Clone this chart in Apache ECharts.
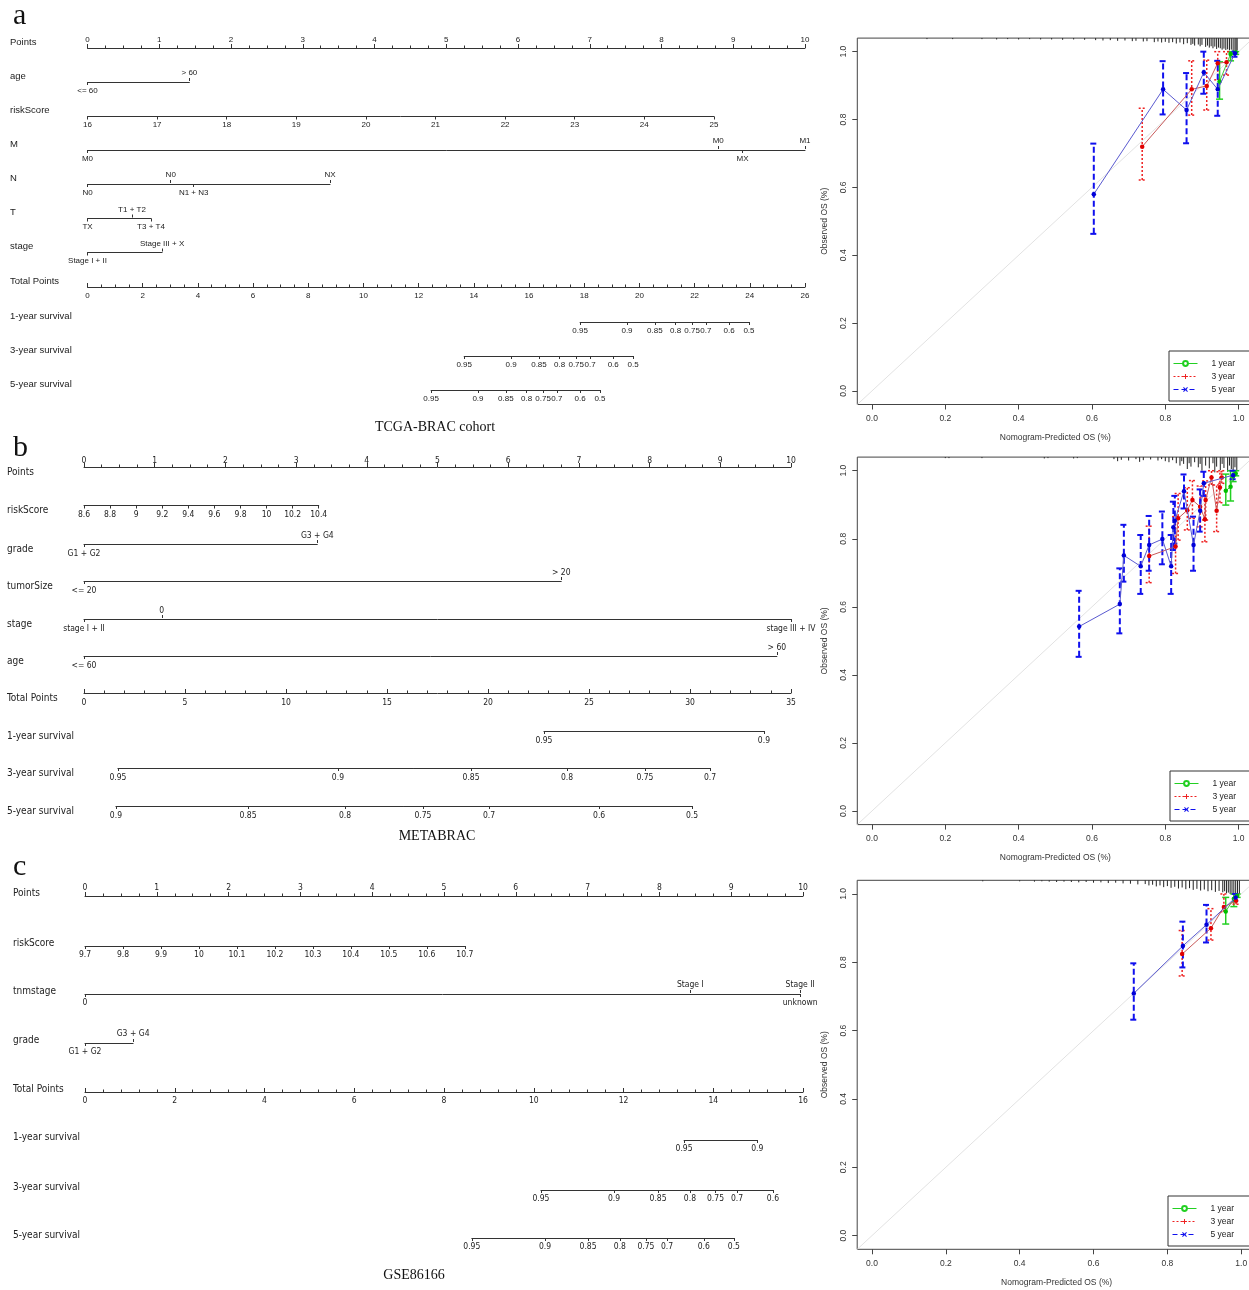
<!DOCTYPE html>
<html>
<head>
<meta charset="utf-8">
<title>Nomograms and calibration curves</title>
<script src="https://cdn.jsdelivr.net/npm/echarts@6.0.0/dist/echarts.min.js"></script>
<style>
  html, body { margin: 0; padding: 0; background: #fff; }
  #chart { width: 1249px; height: 1290px; }
</style>
</head>
<body>
<div id="chart"></div>
<script>
// ---------- a: TCGA-BRAC cohort nomogram ----------
const tcgaRiskScoreTicks = [16, 17, 18, 19, 20, 21, 22, 23, 24, 25];
const tcgaRiskScoreSpan = [0, 8.73];
const tcgaAgeLevels = ['<= 60', '> 60'];
const tcgaAgePoints = [0, 1.42];
const tcgaMLevels = ['M0', 'M0', 'MX', 'M1'];
const tcgaMPoints = [0, 8.79, 9.13, 10];
const tcgaNLevels = ['N0', 'N0', 'N1 + N3', 'NX'];
const tcgaNPoints = [0, 1.16, 1.48, 3.38];
const tcgaTLevels = ['TX', 'T1 + T2', 'T3 + T4'];
const tcgaTPoints = [0, 0.62, 0.885];
const tcgaStageLevels = ['Stage I + II', 'Stage III + X'];
const tcgaStagePoints = [0, 1.04];
const tcgaTotalMax = 26;
const tcgaSurvProbs = [0.95, 0.9, 0.85, 0.8, 0.75, 0.7, 0.6, 0.5];
const tcgaSurv1At = [17.85, 19.55, 20.56, 21.31, 21.91, 22.41, 23.25, 23.97];
const tcgaSurv3At = [13.65, 15.35, 16.36, 17.11, 17.71, 18.21, 19.05, 19.77];
const tcgaSurv5At = [12.45, 14.15, 15.16, 15.91, 16.51, 17.01, 17.85, 18.57];

// ---------- b: METABRAC nomogram ----------
const metaRiskScoreTicks = [8.6, 8.8, 9, 9.2, 9.4, 9.6, 9.8, 10, 10.2, 10.4];
const metaRiskScoreSpan = [0, 3.32];
const metaGradeLevels = ['G1 + G2', 'G3 + G4'];
const metaGradePoints = [0, 3.30];
const metaTumorLevels = ['<= 20', '> 20'];
const metaTumorPoints = [0, 6.75];
const metaStageLevels = ['stage I + II', '0', 'stage III + IV'];
const metaStagePoints = [0, 1.10, 10];
const metaAgeLevels = ['<= 60', '> 60'];
const metaAgePoints = [0, 9.80];
const metaTotalMax = 35;
const metaSurv1Probs = [0.95, 0.9];
const metaSurv1At = [22.77, 33.66];
const metaSurv3Probs = [0.95, 0.9, 0.85, 0.8, 0.75, 0.7];
const metaSurv3At = [1.68, 12.57, 19.16, 23.91, 27.77, 30.99];
const metaSurv5Probs = [0.9, 0.85, 0.8, 0.75, 0.7, 0.6, 0.5];
const metaSurv5At = [1.58, 8.12, 12.92, 16.78, 20.05, 25.50, 30.10];

// ---------- c: GSE86166 nomogram ----------
const gseRiskScoreTicks = [9.7, 9.8, 9.9, 10, 10.1, 10.2, 10.3, 10.4, 10.5, 10.6, 10.7];
const gseRiskScoreSpan = [0, 5.29];
const gseStageLevels = ['0', 'Stage I', 'unknown', 'Stage II'];
const gseStagePoints = [0, 8.43, 9.96, 9.96];
const gseGradeLevels = ['G1 + G2', 'G3 + G4'];
const gseGradePoints = [0, 0.67];
const gseTotalMax = 16;
const gseSurv1Probs = [0.95, 0.9];
const gseSurv1At = [13.35, 14.98];
const gseSurv3Probs = [0.95, 0.9, 0.85, 0.8, 0.75, 0.7, 0.6];
const gseSurv3At = [10.16, 11.79, 12.77, 13.48, 14.05, 14.53, 15.33];
const gseSurv5Probs = [0.95, 0.9, 0.85, 0.8, 0.75, 0.7, 0.6, 0.5];
const gseSurv5At = [8.62, 10.25, 11.21, 11.92, 12.50, 12.97, 13.79, 14.46];

// ---------- calibration curves: [predicted, observed, lower, upper] ----------
const calTicks = [0, 0.2, 0.4, 0.6, 0.8, 1.0];
const calRange = [-0.04, 1.04];

const calA1y = [[0.948, 0.912, 0.860, 0.970], [0.978, 0.993, 0.973, 1.0], [0.992, 0.998, 0.992, 1.0]];
const calA3y = [[0.737, 0.720, 0.622, 0.833], [0.872, 0.889, 0.813, 0.973], [0.913, 0.899, 0.828, 0.975],
  [0.943, 0.966, 0.917, 1.0], [0.967, 0.969, 0.931, 1.0]];
const calA5y = [[0.605, 0.580, 0.463, 0.729], [0.794, 0.889, 0.815, 0.972], [0.858, 0.828, 0.730, 0.937],
  [0.905, 0.939, 0.876, 1.0], [0.943, 0.889, 0.811, 0.973], [0.990, 0.995, 0.985, 1.0]];

const calB1y = [[0.965, 0.941, 0.899, 0.990], [0.978, 0.953, 0.911, 1.0], [0.985, 0.984, 0.968, 1.0],
  [0.992, 0.992, 0.985, 1.0]];
const calB3y = [[0.756, 0.749, 0.671, 0.837], [0.828, 0.777, 0.698, 0.865], [0.835, 0.860, 0.796, 0.933],
  [0.860, 0.884, 0.826, 0.950], [0.874, 0.914, 0.860, 0.971], [0.895, 0.894, 0.835, 0.955],
  [0.908, 0.857, 0.791, 0.924], [0.910, 0.914, 0.855, 0.970], [0.926, 0.980, 0.958, 1.0],
  [0.940, 0.882, 0.821, 0.958], [0.949, 0.951, 0.906, 0.997], [0.954, 0.980, 0.963, 1.0]];
const calB5y = [[0.565, 0.542, 0.453, 0.647], [0.676, 0.608, 0.522, 0.713], [0.687, 0.751, 0.674, 0.841],
  [0.733, 0.719, 0.638, 0.811], [0.756, 0.782, 0.706, 0.867], [0.792, 0.799, 0.725, 0.880],
  [0.816, 0.719, 0.638, 0.811], [0.822, 0.834, 0.767, 0.909], [0.826, 0.853, 0.786, 0.926],
  [0.851, 0.940, 0.889, 0.989], [0.877, 0.782, 0.706, 0.865], [0.895, 0.882, 0.821, 0.945],
  [0.905, 0.963, 0.926, 0.997], [0.985, 0.987, 0.975, 1.0]];

const calC1y = [[0.958, 0.949, 0.912, 0.990], [0.980, 0.986, 0.963, 1.0], [0.989, 0.995, 0.990, 1.0]];
const calC3y = [[0.840, 0.824, 0.760, 0.893], [0.918, 0.900, 0.865, 0.957], [0.953, 0.962, 0.948, 1.0],
  [0.986, 0.980, 0.970, 1.0]];
const calC5y = [[0.709, 0.709, 0.632, 0.797], [0.842, 0.848, 0.785, 0.919], [0.906, 0.910, 0.858, 0.968],
  [0.985, 0.990, 0.980, 1.0]];

// rug of predicted values hanging from the top: [predicted, spike length]
const rugA = [[0.15, 0.003], [0.22, 0.003], [0.30, 0.003], [0.34, 0.004], [0.37, 0.003], [0.40, 0.004],
  [0.43, 0.003], [0.46, 0.004], [0.49, 0.004], [0.52, 0.005], [0.55, 0.004], [0.58, 0.005], [0.61, 0.006],
  [0.63, 0.007], [0.65, 0.006], [0.67, 0.008], [0.69, 0.007], [0.71, 0.009], [0.72, 0.008], [0.74, 0.010],
  [0.75, 0.009], [0.77, 0.012], [0.78, 0.010], [0.79, 0.013], [0.80, 0.011], [0.81, 0.014], [0.82, 0.012],
  [0.83, 0.016], [0.84, 0.013], [0.85, 0.018], [0.86, 0.015], [0.87, 0.020], [0.875, 0.017], [0.88, 0.022],
  [0.89, 0.019], [0.895, 0.024], [0.90, 0.020], [0.91, 0.026], [0.915, 0.022], [0.92, 0.028], [0.925, 0.024],
  [0.93, 0.030], [0.935, 0.025], [0.94, 0.032], [0.945, 0.028], [0.95, 0.030], [0.955, 0.034], [0.96, 0.031],
  [0.965, 0.035], [0.97, 0.033], [0.975, 0.036], [0.98, 0.034], [0.985, 0.038], [0.99, 0.035], [0.993, 0.040],
  [0.996, 0.036]];
const rugB = [[0.20, 0.003], [0.21, 0.003], [0.30, 0.003], [0.47, 0.004], [0.48, 0.003], [0.55, 0.004],
  [0.56, 0.003], [0.66, 0.006], [0.67, 0.012], [0.68, 0.008], [0.70, 0.010], [0.72, 0.006], [0.73, 0.014],
  [0.74, 0.009], [0.76, 0.007], [0.78, 0.010], [0.79, 0.006], [0.80, 0.012], [0.81, 0.015], [0.82, 0.009],
  [0.83, 0.018], [0.84, 0.025], [0.845, 0.012], [0.85, 0.020], [0.86, 0.035], [0.865, 0.018], [0.87, 0.028],
  [0.88, 0.015], [0.89, 0.030], [0.895, 0.020], [0.90, 0.040], [0.91, 0.025], [0.92, 0.033], [0.93, 0.018],
  [0.935, 0.045], [0.94, 0.028], [0.95, 0.038], [0.955, 0.020], [0.96, 0.032], [0.97, 0.043], [0.975, 0.025],
  [0.98, 0.035], [0.985, 0.040], [0.99, 0.030], [0.995, 0.038]];
const rugC = [[0.30, 0.003], [0.40, 0.003], [0.44, 0.004], [0.46, 0.003], [0.48, 0.004], [0.50, 0.005],
  [0.52, 0.004], [0.54, 0.005], [0.56, 0.006], [0.58, 0.005], [0.60, 0.007], [0.62, 0.006], [0.64, 0.008],
  [0.66, 0.007], [0.68, 0.009], [0.70, 0.010], [0.72, 0.012], [0.74, 0.011], [0.75, 0.015], [0.76, 0.013],
  [0.77, 0.018], [0.78, 0.015], [0.79, 0.020], [0.80, 0.017], [0.81, 0.022], [0.82, 0.019], [0.83, 0.024],
  [0.84, 0.021], [0.85, 0.026], [0.86, 0.023], [0.87, 0.028], [0.88, 0.025], [0.89, 0.030], [0.90, 0.027],
  [0.91, 0.032], [0.92, 0.029], [0.93, 0.034], [0.94, 0.031], [0.95, 0.035], [0.955, 0.032], [0.96, 0.038],
  [0.965, 0.036], [0.97, 0.040], [0.975, 0.042], [0.98, 0.044], [0.985, 0.046], [0.99, 0.045], [0.995, 0.040]];

// ---------- layout ----------
const INK = '#333';
const SANS = '"Liberation Sans", Arial, sans-serif';
const NARROW = '"Liberation Sans Narrow", "DejaVu Sans Condensed", "Liberation Sans", sans-serif';
const SERIF = '"Liberation Serif", "Times New Roman", serif';

const panelA = { L: 87.5, W: 717.5, nameX: 10, nameDy: -6, font: SANS, nameSize: 9.5, tickSize: 8, topMargin: 4, botMargin: 4.5 };
const panelB = { L: 84, W: 707, nameX: 7, nameDy: 5, font: NARROW, nameSize: 10, tickSize: 8.5, topMargin: 3, botMargin: 5 };
const panelC = { L: 85, W: 718, nameX: 13, nameDy: -3, font: NARROW, nameSize: 10, tickSize: 8.5, topMargin: 3.5, botMargin: 4.5 };

const grid = [], xAxis = [], yAxis = [], series = [], graphic = [], legend = [];

function newGrid(left, top, width, height, extra) {
  grid.push(Object.assign({ left, top, width, height, show: false, outerBoundsMode: 'none' }, extra || {}));
  return grid.length - 1;
}

function hiddenY(gi) {
  yAxis.push({ gridIndex: gi, type: 'value', show: false, min: 0, max: 1 });
}

function rowAxis(p, gi, o) {
  const ax = {
    gridIndex: gi, type: 'value', position: o.position, min: o.min, max: o.max,
    axisLine: { show: o.line !== false, onZero: false, lineStyle: { color: INK, width: 1 } },
    axisTick: { show: true, inside: !!o.inside, length: o.tickLen || 3, lineStyle: { color: INK, width: 1 } },
    axisLabel: { show: true, margin: o.margin, fontFamily: p.font, fontSize: p.tickSize, color: '#222', formatter: o.fmt },
    splitLine: { show: false }
  };
  if (o.ticks) { ax.axisTick.customValues = o.ticks; ax.axisLabel.customValues = o.ticks; }
  if (o.interval) ax.interval = o.interval;
  if (o.minor) ax.minorTick = { show: true, splitNumber: o.minor, length: 2.5, lineStyle: { color: INK, width: 1 } };
  xAxis.push(ax);
}

function rowName(p, y, text) {
  graphic.push({ type: 'text', x: p.nameX, y: y + p.nameDy, silent: true,
    style: { text, fontFamily: p.font, fontSize: p.nameSize, fill: '#222', verticalAlign: 'middle' } });
}

function pointsRow(p, y, margin) {
  const gi = newGrid(p.L, y, p.W, 1);
  hiddenY(gi);
  rowAxis(p, gi, { position: 'top', min: 0, max: 10, interval: 1, minor: 4, tickLen: 4,
    margin: margin == null ? p.topMargin : margin, fmt: v => String(v) });
  rowName(p, y, 'Points');
}

function totalRow(p, y, max, step, minor) {
  const gi = newGrid(p.L, y - 1, p.W, 1);
  hiddenY(gi);
  rowAxis(p, gi, { position: 'bottom', min: 0, max, interval: step, minor, inside: true, tickLen: 4,
    margin: p.botMargin, fmt: v => String(v) });
  rowName(p, y, 'Total Points');
}

function linRow(p, y, name, ticks, span) {
  const gi = newGrid(p.L + span[0] / 10 * p.W, y - 1, (span[1] - span[0]) / 10 * p.W, 1);
  hiddenY(gi);
  rowAxis(p, gi, { position: 'bottom', min: ticks[0], max: ticks[ticks.length - 1], ticks,
    margin: p.botMargin, fmt: v => String(v) });
  rowName(p, y, name);
}

function catRow(p, y, name, levels, pts) {
  const lo = Math.min(...pts), hi = Math.max(...pts);
  const gi = newGrid(p.L + lo / 10 * p.W, y - 1, (hi - lo) / 10 * p.W, 1);
  hiddenY(gi);
  const below = [], above = [];
  pts.forEach((v, i) => (i % 2 === 0 ? below : above).push(i));
  const fmt = idx => v => {
    const k = idx.find(i => Math.abs(pts[i] - v) < 1e-9);
    return k == null ? '' : levels[k];
  };
  rowAxis(p, gi, { position: 'bottom', min: lo, max: hi, ticks: below.map(i => pts[i]), margin: p.botMargin, fmt: fmt(below) });
  rowAxis(p, gi, { position: 'top', min: lo, max: hi, ticks: above.map(i => pts[i]), line: false, margin: p.topMargin, fmt: fmt(above) });
  rowName(p, y, name);
}

function survRow(p, y, name, probs, at, totalMax) {
  const lo = at[0], hi = at[at.length - 1];
  const gi = newGrid(p.L + lo / totalMax * p.W, y - 1, (hi - lo) / totalMax * p.W, 1);
  hiddenY(gi);
  rowAxis(p, gi, { position: 'bottom', min: lo, max: hi, ticks: at, margin: p.botMargin,
    fmt: v => { const k = at.findIndex(a => Math.abs(a - v) < 1e-9); return k < 0 ? '' : String(probs[k]); } });
  rowName(p, y, name);
}

function heading(letter, ly, title, tx, ty) {
  graphic.push({ type: 'text', x: 13, y: ly, silent: true,
    style: { text: letter, fontFamily: SERIF, fontSize: 30, fill: '#111', verticalAlign: 'middle' } });
  graphic.push({ type: 'text', x: tx, y: ty, silent: true,
    style: { text: title, fontFamily: SERIF, fontSize: 14, fill: '#111', align: 'center', verticalAlign: 'middle' } });
}

// ---- panel a ----
heading('a', 16, 'TCGA-BRAC cohort', 435, 427);
pointsRow(panelA, 48);
catRow(panelA, 82, 'age', tcgaAgeLevels, tcgaAgePoints);
linRow(panelA, 116.5, 'riskScore', tcgaRiskScoreTicks, tcgaRiskScoreSpan);
catRow(panelA, 150, 'M', tcgaMLevels, tcgaMPoints);
catRow(panelA, 184, 'N', tcgaNLevels, tcgaNPoints);
catRow(panelA, 218.5, 'T', tcgaTLevels, tcgaTPoints);
catRow(panelA, 252.5, 'stage', tcgaStageLevels, tcgaStagePoints);
totalRow(panelA, 287, tcgaTotalMax, 2, 4);
survRow(panelA, 322, '1-year survival', tcgaSurvProbs, tcgaSurv1At, tcgaTotalMax);
survRow(panelA, 356, '3-year survival', tcgaSurvProbs, tcgaSurv3At, tcgaTotalMax);
survRow(panelA, 390, '5-year survival', tcgaSurvProbs, tcgaSurv5At, tcgaTotalMax);

// ---- panel b ----
heading('b', 448, 'METABRAC', 437, 836);
pointsRow(panelB, 467, 1.5);
linRow(panelB, 505.5, 'riskScore', metaRiskScoreTicks, metaRiskScoreSpan);
catRow(panelB, 544, 'grade', metaGradeLevels, metaGradePoints);
catRow(panelB, 581, 'tumorSize', metaTumorLevels, metaTumorPoints);
catRow(panelB, 619, 'stage', metaStageLevels, metaStagePoints);
catRow(panelB, 656, 'age', metaAgeLevels, metaAgePoints);
totalRow(panelB, 693, metaTotalMax, 5, 5);
survRow(panelB, 731, '1-year survival', metaSurv1Probs, metaSurv1At, metaTotalMax);
survRow(panelB, 768, '3-year survival', metaSurv3Probs, metaSurv3At, metaTotalMax);
survRow(panelB, 806, '5-year survival', metaSurv5Probs, metaSurv5At, metaTotalMax);

// ---- panel c ----
heading('c', 867, 'GSE86166', 414, 1275);
pointsRow(panelC, 896);
linRow(panelC, 946, 'riskScore', gseRiskScoreTicks, gseRiskScoreSpan);
catRow(panelC, 994, 'tnmstage', gseStageLevels, gseStagePoints);
catRow(panelC, 1043, 'grade', gseGradeLevels, gseGradePoints);
totalRow(panelC, 1092, gseTotalMax, 2, 5);
survRow(panelC, 1140, '1-year survival', gseSurv1Probs, gseSurv1At, gseTotalMax);
survRow(panelC, 1190, '3-year survival', gseSurv3Probs, gseSurv3At, gseTotalMax);
survRow(panelC, 1238, '5-year survival', gseSurv5Probs, gseSurv5At, gseTotalMax);

// ---------- calibration plots ----------
const PLUS = 'path://M4,0H6V4H10V6H6V10H4V6H0V4H4Z';
const CROSS = 'path://M1.5,0L5,3.5L8.5,0L10,1.5L6.5,5L10,8.5L8.5,10L5,6.5L1.5,10L0,8.5L3.5,5L0,1.5Z';
const yearStyles = [
  { name: '1 year', bar: '#22d022', line: '#40c840', dot: '#00c000', dash: null, lineType: 'solid', barW: 1.5, symbol: 'emptyCircle' },
  { name: '3 year', bar: '#ee2020', line: '#c85a5a', dot: '#e00000', dash: [2, 2], lineType: [2, 2], barW: 1.5, symbol: PLUS },
  { name: '5 year', bar: '#1010ee', line: '#5a5ad0', dot: '#0000d8', dash: [6, 3], lineType: [5, 3], barW: 2, symbol: CROSS }
];

function errRender(st) {
  return function (params, api) {
    const x = api.value(0);
    const a = api.coord([x, api.value(1)]), b = api.coord([x, api.value(2)]);
    const style = { stroke: st.bar, lineWidth: st.barW, lineDash: st.dash };
    const cap = 3.5;
    return { type: 'group', children: [
      { type: 'line', shape: { x1: a[0], y1: a[1], x2: b[0], y2: b[1] }, style },
      { type: 'line', shape: { x1: a[0] - cap, y1: a[1], x2: a[0] + cap, y2: a[1] }, style },
      { type: 'line', shape: { x1: b[0] - cap, y1: b[1], x2: b[0] + cap, y2: b[1] }, style }
    ] };
  };
}

function rugRender(params, api) {
  const x = api.value(0);
  const a = api.coord([x, calRange[1]]), b = api.coord([x, calRange[1] - api.value(1)]);
  return { type: 'line', shape: { x1: a[0], y1: a[1], x2: b[0], y2: b[1] }, style: { stroke: '#222', lineWidth: 1 } };
}

const calFont = { fontFamily: SANS, fontSize: 8.5, color: '#333' };

function calPlot(box, rug, curves, legendAt, withLegendSeries) {
  const gi = newGrid(box.left, box.top, box.width, box.height, { show: true, borderColor: '#444', borderWidth: 1 });
  const xi = xAxis.length, yi = yAxis.length;
  xAxis.push({
    gridIndex: gi, type: 'value', position: 'bottom', min: calRange[0], max: calRange[1],
    axisLine: { show: false, onZero: false },
    axisTick: { show: true, length: 5, customValues: calTicks, lineStyle: { color: '#444' } },
    axisLabel: Object.assign({ customValues: calTicks, formatter: v => v.toFixed(1), margin: 10 }, calFont),
    splitLine: { show: false },
    name: 'Nomogram-Predicted OS (%)', nameLocation: 'middle', nameGap: 29, nameMoveOverlap: false,
    nameTextStyle: calFont
  });
  yAxis.push({
    gridIndex: gi, type: 'value', position: 'left', min: calRange[0], max: calRange[1],
    axisLine: { show: false, onZero: false },
    axisTick: { show: true, length: 5, customValues: calTicks, lineStyle: { color: '#444' } },
    axisLabel: Object.assign({ customValues: calTicks, formatter: v => v.toFixed(1), margin: 9, rotate: 90 }, calFont),
    splitLine: { show: false },
    name: 'Observed OS (%)', nameLocation: 'middle', nameGap: 28, nameRotate: 90, nameMoveOverlap: false,
    nameTextStyle: calFont
  });
  if (withLegendSeries) {
    yearStyles.forEach(st => series.push({
      name: st.name, type: 'line', xAxisIndex: xi, yAxisIndex: yi, data: [],
      symbol: st.symbol, color: st.bar, itemStyle: { color: st.bar },
      lineStyle: { color: st.bar, width: 1, type: st.lineType }
    }));
  }
  series.push({ type: 'line', xAxisIndex: xi, yAxisIndex: yi, silent: true, symbol: 'none', z: 1,
    data: [[calRange[0], calRange[0]], [calRange[1], calRange[1]]], lineStyle: { color: '#e2e2e2', width: 1 } });
  series.push({ type: 'custom', xAxisIndex: xi, yAxisIndex: yi, silent: true, renderItem: rugRender, data: rug, z: 2 });
  curves.forEach((c, k) => {
    const st = yearStyles[k];
    series.push({ type: 'custom', xAxisIndex: xi, yAxisIndex: yi, silent: true, z: 3 + k,
      renderItem: errRender(st), data: c.map(r => [r[0], r[2], r[3]]) });
    series.push({ name: st.name + ' curve', type: 'line', xAxisIndex: xi, yAxisIndex: yi, silent: true, z: 6 + k,
      data: c.map(r => [r[0], r[1]]), symbol: 'circle', symbolSize: 4.5,
      itemStyle: { color: st.dot }, lineStyle: { color: st.line, width: 1 } });
  });
  legend.push({
    data: yearStyles.map(s => s.name), orient: 'vertical', left: legendAt[0], top: legendAt[1],
    itemWidth: 24, itemHeight: 6, itemGap: 4, selectedMode: false,
    borderColor: '#333', borderWidth: 1, borderRadius: 0, padding: [8, 60, 7, 4], backgroundColor: '#fff',
    lineStyle: { width: 1 },
    textStyle: { fontFamily: SANS, fontSize: 8.5, color: '#222', padding: [0, 0, 0, 9] }
  });
}

calPlot({ left: 857.3, top: 38.1, width: 396, height: 366.4 }, rugA, [calA1y, calA3y, calA5y], [1169, 351], true);
calPlot({ left: 857.3, top: 457.1, width: 396, height: 367.5 }, rugB, [calB1y, calB3y, calB5y], [1170, 771], false);
calPlot({ left: 857.2, top: 880.3, width: 398.8, height: 369 }, rugC, [calC1y, calC3y, calC5y], [1168, 1196], false);

const chart = echarts.init(document.getElementById('chart'));
chart.setOption({
  animation: false,
  backgroundColor: '#fff',
  grid, xAxis, yAxis, series, graphic, legend
});
</script>
</body>
</html>
